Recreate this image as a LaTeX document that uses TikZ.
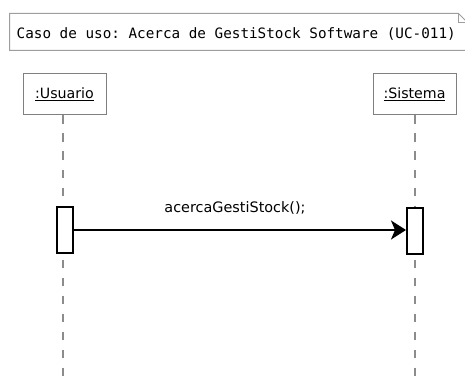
\documentclass[tikz,border=0pt]{standalone}
\usepackage{fontspec}
\setmainfont{DejaVu Sans}
\setmonofont{DejaVu Sans Mono}
\usetikzlibrary{arrows.meta}
\begin{document}
\begin{tikzpicture}[x=1pt,y=-1pt,
  headbox/.style={draw=black!50,line width=1pt,fill=white,minimum width=83pt,minimum height=41pt,inner sep=0pt,font=\fontsize{14.2}{16}\selectfont},
  lifeline/.style={draw=black!45,line width=2pt,dash pattern=on 8.5pt off 9.5pt},
  actbox/.style={draw=black,line width=2pt,fill=white,minimum width=16pt,minimum height=46pt,inner sep=0pt},
  msg/.style={draw=black,line width=2pt,-{Stealth[length=15pt,width=19pt,inset=4pt]}},
  lbl/.style={font=\fontsize{14.4}{16}\selectfont,inner sep=0pt}]
\useasboundingbox (0,0) rectangle (465,382);
\begin{scope}
\clip (0,0) rectangle (465,382);
% note
\draw[draw=black!38,line width=1pt,fill=white] (9.5,13.5) -- (458.5,13.5) -- (468,23) -- (468,50.5) -- (9.5,50.5) -- cycle;
\draw[draw=black!38,line width=1pt] (458.5,13.5) -- (458.5,23) -- (468,23);
\node[font=\ttfamily\fontsize{14.3}{16}\selectfont,anchor=west,inner sep=0pt] (note) at (16.5,34) {Caso de uso: Acerca de GestiStock Software (UC-011)};
% lifelines
\coordinate (uend) at (63,382);
\coordinate (send) at (415,382);
\node[headbox] (usr) at (64.5,94.5) {\underline{:Usuario}};
\node[headbox] (sys) at (414.5,94.5) {\underline{:Sistema}};
\draw[lifeline] (usr.south -| uend) -- (uend);
\draw[lifeline] (sys.south -| send) -- (send);
% activations
\node[actbox] (au) at (64.5,230) {};
\node[actbox] (as) at (415,231) {};
\draw[msg] (au.east |- 0,230) -- (as.west |- 0,230);
\node[lbl] (m) at (235,208) {acercaGestiStock();};
\end{scope}
\end{tikzpicture}
\end{document}
